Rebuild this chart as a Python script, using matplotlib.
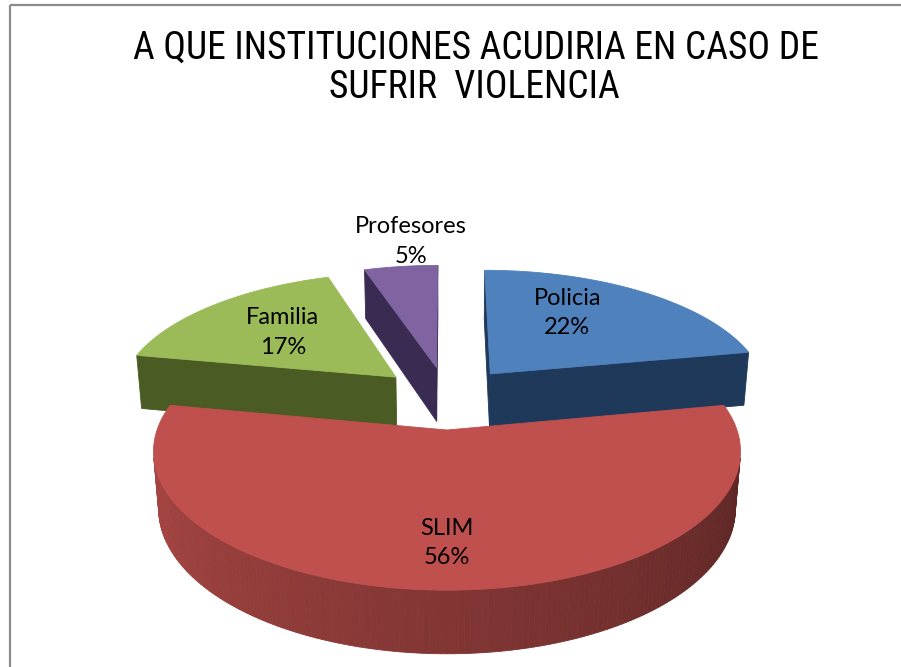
import numpy as np
import matplotlib
matplotlib.use("Agg")
import matplotlib.pyplot as plt
from matplotlib.patches import Polygon
from matplotlib.colors import to_rgb
from matplotlib import font_manager

plt.rcParams['font.family'] = ['Lato', 'DejaVu Sans']

title_lines = ["A QUE INSTITUCIONES ACUDIRIA EN CASO DE", "SUFRIR  VIOLENCIA"]
labels = ["Policia", "SLIM", "Familia", "Profesores"]
values = [22, 56, 17, 5]
top_colors = ["#4F81BD", "#C0504D", "#9BBB59", "#8064A2"]
cut_colors = ["#1F395B", "#6E2B29", "#4B5B24", "#3A2B52"]

# label placement: angle nudge (deg) from the slice mid-angle, radius from slice apex
label_nudge = [9.6, 0.0, 0.0, -3.7]
label_radius = [0.64, 0.74, 0.60, 1.28]

W, H = 901, 667
CX, CY = 447.0, 397.4     # screen position of pie centre
F = 1675.0                # focal length (px)
DIST = 6.0                # camera distance (pie radii)
SIN_E = 0.4496            # sin of view elevation
COS_E = np.sqrt(1 - SIN_E ** 2)
EXPLODE = 0.25
THICK = 0.225
CAM = np.array([0.0, -DIST * COS_E, DIST * SIN_E])


def narrow_font():
    # a narrower sans (closer to Calibri's proportions) if one is installed
    fonts = font_manager.fontManager.ttflist
    for name in ['Liberation Sans Narrow', 'Open Sans Condensed', 'Roboto Condensed',
                 'Noto Sans Condensed', 'DejaVu Sans Condensed', 'Arial Narrow']:
        for f in fonts:
            if f.name == name and f.style == 'normal' and f.weight in (400, 'normal', 'regular'):
                return font_manager.FontProperties(fname=f.fname)
    for f in fonts:
        if (str(f.stretch) in ('condensed', 'semi-condensed', '500', '600', '625', '700', '750')
                and f.style == 'normal' and f.weight in (400, 'normal', 'regular')
                and f.name in ('Noto Sans', 'Open Sans', 'Roboto', 'DejaVu Sans', 'Liberation Sans')):
            return font_manager.FontProperties(fname=f.fname)
    return font_manager.FontProperties(family=['Lato', 'DejaVu Sans'])


def project(u, v, z):
    u = np.asarray(u, float)
    v = np.asarray(v, float)
    z = np.asarray(z, float) * np.ones_like(u)
    dep = DIST + v * COS_E - z * SIN_E
    x = CX + F * u / dep
    y = CY - F * (v * SIN_E + z * COS_E) / dep
    return np.column_stack([x, y])


def depth(p):
    return DIST + p[1] * COS_E - p[2] * SIN_E


def facing(normal, point):
    return np.dot(normal, CAM - point) > 0


def shade(color, f):
    r, g, b = to_rgb(color)
    return (r * f, g * f, b * f)


def outer_factor(a):
    a = a % 360
    if a < 90:
        a += 360
    return float(np.clip(0.9 - 0.45 * (a - 180) / 180, 0.45, 0.9))


fig = plt.figure(figsize=(W / 100, H / 100), dpi=100)
ax = fig.add_axes([0, 0, 1, 1])
ax.set_xlim(0, W)
ax.set_ylim(H, 0)
ax.axis('off')

fracs = np.array(values, float) / sum(values)
starts = 90 - 360 * np.concatenate([[0], np.cumsum(fracs)[:-1]])
ends = starts - 360 * fracs
mids = (starts + ends) / 2

apexes = [EXPLODE * np.array([np.cos(np.radians(m)), np.sin(np.radians(m))]) for m in mids]
order = sorted(range(len(values)), key=lambda i: -apexes[i][1])

for i in order:
    au, av = apexes[i]
    n = max(int(abs(starts[i] - ends[i]) / 1.0), 6)
    th = np.radians(np.linspace(ends[i], starts[i], n))
    arc_u = au + np.cos(th)
    arc_v = av + np.sin(th)

    faces = []
    # curved outer wall
    for k in range(n - 1):
        tm = (th[k] + th[k + 1]) / 2
        nrm = np.array([np.cos(tm), np.sin(tm), 0.0])
        pt = np.array([au + np.cos(tm), av + np.sin(tm), -THICK / 2])
        if not facing(nrm, pt):
            continue
        uu = [arc_u[k], arc_u[k + 1], arc_u[k + 1], arc_u[k]]
        vv = [arc_v[k], arc_v[k + 1], arc_v[k + 1], arc_v[k]]
        zz = np.array([0, 0, -THICK, -THICK])
        col = shade(top_colors[i], outer_factor(np.degrees(tm)))
        faces.append((depth(pt), project(uu, vv, zz), col))
    # radial cut walls
    for ang, side in ((th[-1], 1), (th[0], -1)):
        na = ang + side * np.pi / 2
        nrm = np.array([np.cos(na), np.sin(na), 0.0])
        pt = np.array([au + 0.5 * np.cos(ang), av + 0.5 * np.sin(ang), -THICK / 2])
        if not facing(nrm, pt):
            continue
        uu = [au, au + np.cos(ang), au + np.cos(ang), au]
        vv = [av, av + np.sin(ang), av + np.sin(ang), av]
        zz = np.array([0, 0, -THICK, -THICK])
        faces.append((depth(pt), project(uu, vv, zz), cut_colors[i]))

    faces.sort(key=lambda f: -f[0])
    for _, verts, col in faces:
        ax.add_patch(Polygon(verts, closed=True, facecolor=col, edgecolor=col,
                             linewidth=0.6, zorder=2))

    top_u = np.concatenate([[au], arc_u])
    top_v = np.concatenate([[av], arc_v])
    top = project(top_u, top_v, 0)
    ax.add_patch(Polygon(top, closed=True, facecolor=top_colors[i],
                         edgecolor=top_colors[i], linewidth=0.6, zorder=2))

# data labels
for i in range(len(values)):
    a = np.radians(mids[i] + label_nudge[i])
    au, av = apexes[i]
    pos = project([au + label_radius[i] * np.cos(a)], [av + label_radius[i] * np.sin(a)], 0)[0]
    ax.text(pos[0], pos[1], f"{labels[i]}\n{values[i]}%", ha='center', va='center',
            fontsize=17, linespacing=1.5, color='black', zorder=5)

# title, sized to the reference width
title_font = narrow_font()
renderer = fig.canvas.get_renderer()
t1 = ax.text(476, 59, title_lines[0], ha='center', va='baseline', fontsize=24,
             fontproperties=title_font, color='black')
t1.set_fontsize(24)
w = t1.get_window_extent(renderer).width
size = 24 * 687 / w
t1.set_fontsize(size)
t2 = ax.text(474, 98, title_lines[1], ha='center', va='baseline',
             fontproperties=title_font, color='black')
t2.set_fontsize(size)

# chart frame
ax.plot([10, 10], [H, 5], color='#8c8c8c', lw=1.6, solid_capstyle='butt')
ax.plot([10, W], [5, 5], color='#8c8c8c', lw=1.6, solid_capstyle='butt')

fig.savefig("out.png", dpi=100)
